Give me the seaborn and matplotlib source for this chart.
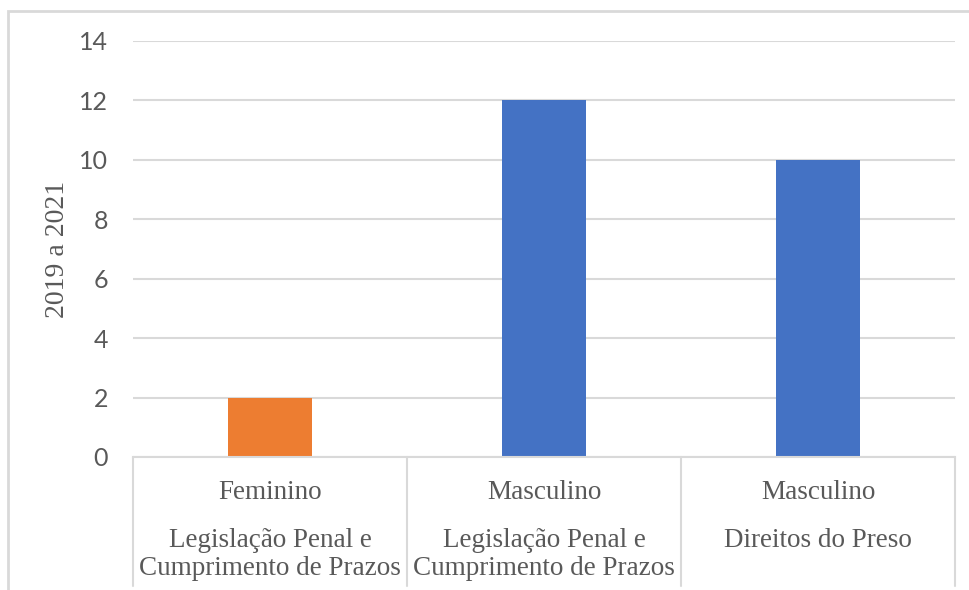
import pandas as pd
import matplotlib.pyplot as plt
import seaborn as sns
from matplotlib.patches import Rectangle

# chart data
generos = ['Feminino', 'Masculino', 'Masculino']
temas = ['Legislação Penal e\nCumprimento de Prazos',
         'Legislação Penal e\nCumprimento de Prazos',
         'Direitos do Preso']
valores = [2, 12, 10]
cores = ['#ED7D31', '#4472C4', '#4472C4']
yticks = [0, 2, 4, 6, 8, 10, 12, 14]

df = pd.DataFrame({'pos': ['a', 'b', 'c'], 'valor': valores})

sns.set_style('white')
fig = plt.figure(figsize=(9.7, 5.9), dpi=100)
ax = fig.add_axes([133/970, 1-457/590, (955-133)/970, (457-41)/590])

sns.barplot(data=df, x='pos', y='valor', hue='pos', palette=cores,
            width=0.31, legend=False, ax=ax, saturation=1, linewidth=0)

ax.set_ylim(0, 14)
ax.set_xlim(-0.5, 2.5)
ax.set_yticks(yticks)
ax.set_yticklabels([str(t) for t in yticks], family='Lato', fontsize=18, color='#595959')
ax.tick_params(axis='y', length=0, pad=18)
ax.set_xticks([])
ax.set_xlabel('')
ax.set_ylabel('2019 a 2021', family='Liberation Serif', fontsize=20, color='#595959')
ax.yaxis.set_label_coords(-0.077, 0.5)
ax.yaxis.grid(True, color='#d9d9d9', linewidth=1.5)
ax.set_axisbelow(True)
for s in ['top', 'right', 'left']:
    ax.spines[s].set_visible(False)
ax.spines['bottom'].set_color('#d9d9d9')
ax.spines['bottom'].set_linewidth(1.5)

# category separators below the axis
tr = ax.get_xaxis_transform()
for xb in [-0.5, 0.5, 1.5, 2.5]:
    ax.plot([xb, xb], [0, -0.31], transform=tr, color='#d9d9d9', lw=1.5, clip_on=False)

for i, (g, t) in enumerate(zip(generos, temas)):
    ax.text(i, -0.085, g, transform=tr, ha='center', va='center',
            family='Liberation Serif', fontsize=19.5, color='#595959')
    ax.text(i, -0.17, t, transform=tr, ha='center', va='top',
            family='Liberation Serif', fontsize=19.5, color='#595959', linespacing=1.15)

# chart border
fig.patches.append(Rectangle((8/970, -0.1), 1.1, 1-11/590+0.1, transform=fig.transFigure,
                             fill=False, edgecolor='#d9d9d9', lw=2))

fig.savefig('out.png', dpi=100)
